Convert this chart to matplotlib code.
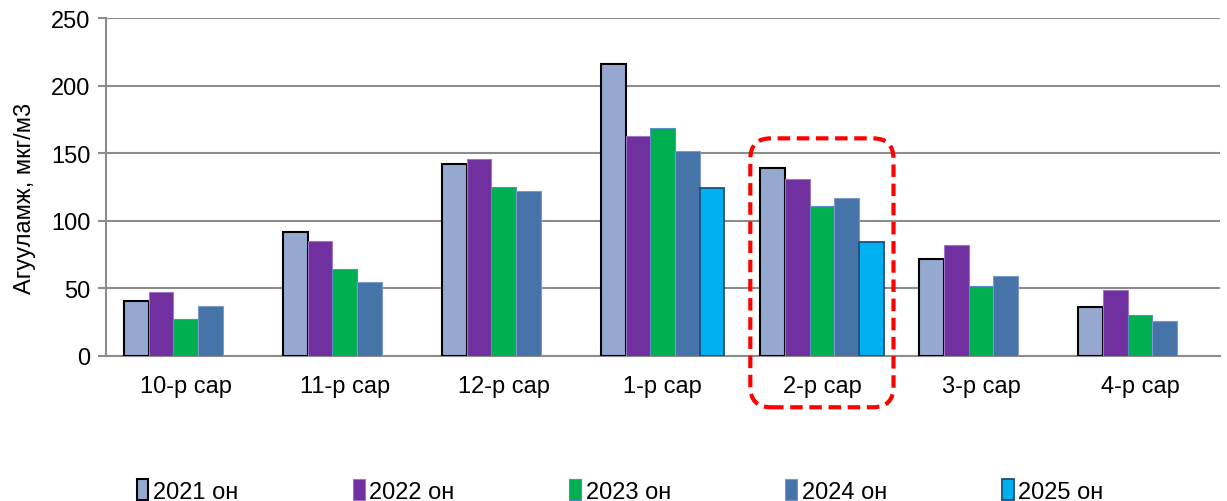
import numpy as np
import matplotlib.pyplot as plt
from matplotlib.patches import FancyBboxPatch

plt.rcParams['font.family'] = ['Liberation Sans', 'DejaVu Sans']

# Data
months = ["10-р сар", "11-р сар", "12-р сар", "1-р сар", "2-р сар", "3-р сар", "4-р сар"]
years = ["2021 он", "2022 он", "2023 он", "2024 он", "2025 он"]
v2021 = [41, 92, 142, 216, 139, 72, 36]
v2022 = [47, 85, 146, 163, 131, 82, 49]
v2023 = [27, 64, 125, 169, 111, 52, 30]
v2024 = [37, 55, 122, 152, 117, 59, 26]
v2025 = [np.nan, np.nan, np.nan, 124, 84, np.nan, np.nan]
series = [v2021, v2022, v2023, v2024, v2025]

colors = ["#95A9D0", "#7030A0", "#00B050", "#4673A8", "#00B0F0"]
edges = ["black", "#9C78C0", "#5B8BC8", "#7A9ACB", "#1F4E79"]
widths = [1.5, 0.8, 0.8, 0.8, 1.3]

fig = plt.figure(figsize=(12.27, 5.02), dpi=100)
ax = fig.add_axes([0.0864, 0.289, 0.9076, 0.673])

x = np.arange(len(months))
bw = 0.155
for i, vals in enumerate(series):
    ax.bar(x + (i - 2) * bw, vals, bw, color=colors[i], edgecolor=edges[i],
           linewidth=widths[i], label=years[i], zorder=3)

ax.set_xlim(-0.5, len(months) - 0.5)
ax.set_ylim(0, 250)
ax.set_yticks(range(0, 251, 50))
ax.yaxis.grid(True, color="#8C8C8C", linewidth=1.5, zorder=0)
ax.set_axisbelow(True)
for s in ["top", "right"]:
    ax.spines[s].set_visible(False)
for s in ["left", "bottom"]:
    ax.spines[s].set_color("#8C8C8C")
    ax.spines[s].set_linewidth(1.5)
ax.set_xticks(x)
ax.set_xticklabels(months)
ax.tick_params(axis="x", length=0, pad=14, labelsize=17)
ax.tick_params(axis="y", length=6, width=1.5, color="#8C8C8C", pad=5, labelsize=17)
ax.set_ylabel("Агууламж, мкг/м3", fontsize=17)
ax.yaxis.set_label_coords(-0.063, 0.47)

# highlight box around 2-р сар
k = 4
top = np.nanmax([s[k] for s in series]) + 22
bottom = -38
box = FancyBboxPatch((k - 0.45, bottom), 0.9, top - bottom,
                     boxstyle="round,pad=0,rounding_size=0.13",
                     mutation_aspect=117.6, fill=False, edgecolor="#FF0000",
                     linewidth=3, linestyle=(0, (3, 1.6)), clip_on=False, zorder=5)
ax.add_patch(box)

fig.legend(loc="lower left", bbox_to_anchor=(0.094, -0.046), ncol=5, frameon=False,
           fontsize=17, handlelength=0.5, handleheight=1.0, handletextpad=0.2,
           columnspacing=4.85)

fig.savefig("out.png", dpi=100)
